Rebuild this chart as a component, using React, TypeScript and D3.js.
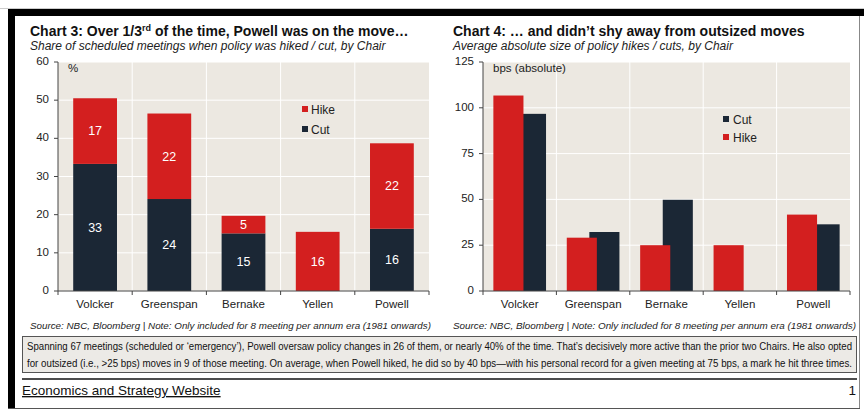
import React from "react";
import * as d3 from "d3";

const chairs = ["Volcker", "Greenspan", "Bernake", "Yellen", "Powell"];
// chart 3: share of meetings (%)
const shareCut = [33.3, 24.1, 15.1, 0, 16.3];
const shareHike = [17.2, 22.4, 4.6, 15.5, 22.4];
const shareTicks = [0, 10, 20, 30, 40, 50, 60];
// chart 4: average absolute size (bps)
const sizeHike = [106.7, 29.1, 25, 25, 41.7];
const sizeCut = [96.7, 32.2, 49.8, 0, 36.4];
const sizeTicks = [0, 25, 50, 75, 100, 125];

const sourceNote =
  "Source: NBC, Bloomberg | Note: Only included for 8 meeting per annum era (1981 onwards)";
const boxLines = [
  "Spanning 67 meetings (scheduled or \u2018emergency\u2019), Powell oversaw policy changes in 26 of them, or nearly 40% of the time. That\u2019s decisively more active than the prior two Chairs. He also opted",
  "for outsized (i.e., >25 bps) moves in 9 of those meeting. On average, when Powell hiked, he did so by 40 bps\u2014with his personal record for a given meeting at 75 bps,  a mark he hit three times.",
];

const RED = "#D31F1F";
const NAVY = "#1B2735";
const BG = "#ECE8E1";
const AXIS = "#444";
const FONT = "'Liberation Sans', Arial, sans-serif";

const TOP = 62,
  BOTTOM = 291;

interface FrameProps {
  left: number;
  right: number;
  y: d3.ScaleLinear<number, number>;
  ticks: number[];
  band: d3.ScaleBand<string>;
  unit: string;
}

// plot background, gridlines and unit label shared by both charts
const Frame = ({ left, right, y, ticks, band, unit }: FrameProps) => (
  <g>
    <rect x={left} y={TOP} width={right - left} height={BOTTOM - TOP} fill={BG} />
    {ticks.map(t => (
      <line key={t} x1={left} x2={right} y1={y(t)} y2={y(t)} stroke="#fff" strokeWidth={1} />
    ))}
    {chairs.slice(1).map(c => (
      <line key={c} x1={band(c)!} x2={band(c)!} y1={TOP} y2={BOTTOM} stroke="#fff" strokeWidth={1} />
    ))}
    <text x={left + 10} y={TOP + 10} fontSize={11.5} fill="#222" fontFamily={FONT}>
      {unit}
    </text>
  </g>
);

interface AxesProps {
  left: number;
  right: number;
  y: d3.ScaleLinear<number, number>;
  ticks: number[];
  band: d3.ScaleBand<string>;
}

const Axes = ({ left, right, y, ticks, band }: AxesProps) => (
  <g fontFamily={FONT} fill="#222">
    <line x1={left} x2={left} y1={y(ticks[ticks.length - 1])} y2={BOTTOM} stroke={AXIS} />
    <line x1={left} x2={right} y1={BOTTOM} y2={BOTTOM} stroke={AXIS} />
    {ticks.map(t => (
      <g key={t}>
        <line x1={left - 4} x2={left} y1={y(t)} y2={y(t)} stroke={AXIS} />
        <text x={left - 9} y={y(t)} textAnchor="end" dominantBaseline="middle" fontSize={11.5}>
          {t}
        </text>
      </g>
    ))}
    {chairs.map(c => (
      <g key={c}>
        <line x1={band(c)!} x2={band(c)!} y1={BOTTOM} y2={BOTTOM + 4} stroke={AXIS} />
        <text
          x={band(c)! + band.bandwidth() / 2}
          y={BOTTOM + 17}
          textAnchor="middle"
          fontSize={11.5}
        >
          {c}
        </text>
      </g>
    ))}
    <line x1={right} x2={right} y1={BOTTOM} y2={BOTTOM + 4} stroke={AXIS} />
  </g>
);

const ShareChart = () => {
  const left = 58,
    right = 429;
  const band = d3.scaleBand<string>().domain(chairs).range([left, right]);
  const y = d3.scaleLinear().domain([0, 60]).range([BOTTOM, TOP]);
  const barW = band.bandwidth() * 0.59;
  const stack = d3
    .stack<number>()
    .keys(["cut", "hike"])
    .value((i, key) => (key === "cut" ? shareCut[i] : shareHike[i]))(chairs.map((_, i) => i));
  const colors = [NAVY, RED];

  return (
    <g>
      <Frame left={left} right={right} y={y} ticks={shareTicks} band={band} unit="%" />
      {stack.map((layer, li) =>
        layer.map((d, i) => {
          const h = y(d[0]) - y(d[1]);
          if (h <= 0) return null;
          const x = band(chairs[i])! + (band.bandwidth() - barW) / 2;
          return (
            <g key={`${li}-${i}`}>
              <rect x={x} y={y(d[1])} width={barW} height={h} fill={colors[li]} />
              <text
                x={x + barW / 2}
                y={(y(d[0]) + y(d[1])) / 2 + 1}
                textAnchor="middle"
                dominantBaseline="middle"
                fill="#fff"
                fontSize={12.5}
                fontFamily={FONT}
              >
                {Math.round(d[1] - d[0])}
              </text>
            </g>
          );
        })
      )}
      <g fontFamily={FONT} fontSize={12} fill="#222">
        <rect x={302} y={106} width={6} height={6} fill={RED} />
        <text x={311} y={113.5}>Hike</text>
        <rect x={302} y={126} width={6} height={6} fill={NAVY} />
        <text x={311} y={133.5}>Cut</text>
      </g>
      <Axes left={left} right={right} y={y} ticks={shareTicks} band={band} />
    </g>
  );
};

const SizeChart = () => {
  const left = 483,
    right = 850;
  const band = d3.scaleBand<string>().domain(chairs).range([left, right]);
  const y = d3.scaleLinear().domain([0, 125]).range([BOTTOM, TOP]);
  const barW = band.bandwidth() * 0.41;
  const offset = barW * 0.75;
  const groupW = barW + offset;

  return (
    <g>
      <Frame left={left} right={right} y={y} ticks={sizeTicks} band={band} unit="bps (absolute)" />
      {chairs.map((c, i) => {
        const x0 = band(c)! + (band.bandwidth() - groupW) / 2;
        return (
          <g key={c}>
            {sizeCut[i] > 0 && (
              <rect x={x0 + offset} y={y(sizeCut[i])} width={barW} height={BOTTOM - y(sizeCut[i])} fill={NAVY} />
            )}
            {sizeHike[i] > 0 && (
              <rect x={x0} y={y(sizeHike[i])} width={barW} height={BOTTOM - y(sizeHike[i])} fill={RED} />
            )}
          </g>
        );
      })}
      <g fontFamily={FONT} fontSize={12} fill="#222">
        <rect x={723} y={116} width={6} height={6} fill={NAVY} />
        <text x={733} y={123.5}>Cut</text>
        <rect x={723} y={134} width={6} height={6} fill={RED} />
        <text x={733} y={141.5}>Hike</text>
      </g>
      <Axes left={left} right={right} y={y} ticks={sizeTicks} band={band} />
    </g>
  );
};

const App = () => (
  <svg
    width={864}
    height={412}
    style={{ position: "absolute", left: 0, top: 0, display: "block", background: "#fff" }}
    fontFamily={FONT}
  >
    {/* page frame */}
    <line x1={0} x2={864} y1={8.5} y2={8.5} stroke="#ccc" />
    <rect x={8} y={9} width={856} height={7} fill="#000" />
    <rect x={8} y={9} width={7} height={400} fill="#000" />
    <line x1={859.5} x2={859.5} y1={16} y2={409} stroke="#888" />
    <line x1={8} x2={860} y1={408.5} y2={408.5} stroke="#555" />

    {/* titles */}
    <text x={30} y={36} fontSize={14} fontWeight="bold" fill="#111">
      Chart 3: Over 1/3
      <tspan fontSize={9} dy={-5}>rd</tspan>
      <tspan dy={5}> of the time, Powell was on the move…</tspan>
    </text>
    <text x={30} y={50} fontSize={12} fontStyle="italic" fill="#222">
      Share of scheduled meetings when policy was hiked / cut, by Chair
    </text>
    <text x={453} y={36} fontSize={14} fontWeight="bold" fill="#111">
      Chart 4: … and didn’t shy away from outsized moves
    </text>
    <text x={453} y={50} fontSize={12} fontStyle="italic" fill="#222">
      Average absolute size of policy hikes / cuts, by Chair
    </text>

    <ShareChart />
    <SizeChart />

    {/* sources */}
    <text x={30} y={329} fontSize={9.5} fontStyle="italic" fill="#222" textLength={401} lengthAdjust="spacingAndGlyphs">
      {sourceNote}
    </text>
    <text x={453} y={329} fontSize={9.5} fontStyle="italic" fill="#222" textLength={403} lengthAdjust="spacingAndGlyphs">
      {sourceNote}
    </text>

    {/* commentary box */}
    <rect x={22.5} y={336.5} width={834} height={36} fill="#ECEAE6" stroke="#555" />
    {boxLines.map((l, i) => (
      <text
        key={i}
        x={27}
        y={350 + i * 17}
        fontSize={10}
        fill="#111"
        textLength={825}
        lengthAdjust="spacingAndGlyphs"
      >
        {l}
      </text>
    ))}
    <line x1={22} x2={857} y1={379} y2={379} stroke="#111" strokeWidth={1.5} />
    <text x={22} y={395} fontSize={13.5} fill="#111" textDecoration="underline">
      Economics and Strategy Website
    </text>
    <text x={856} y={395} fontSize={13.5} fill="#111" textAnchor="end">
      1
    </text>
  </svg>
);

export default App;
